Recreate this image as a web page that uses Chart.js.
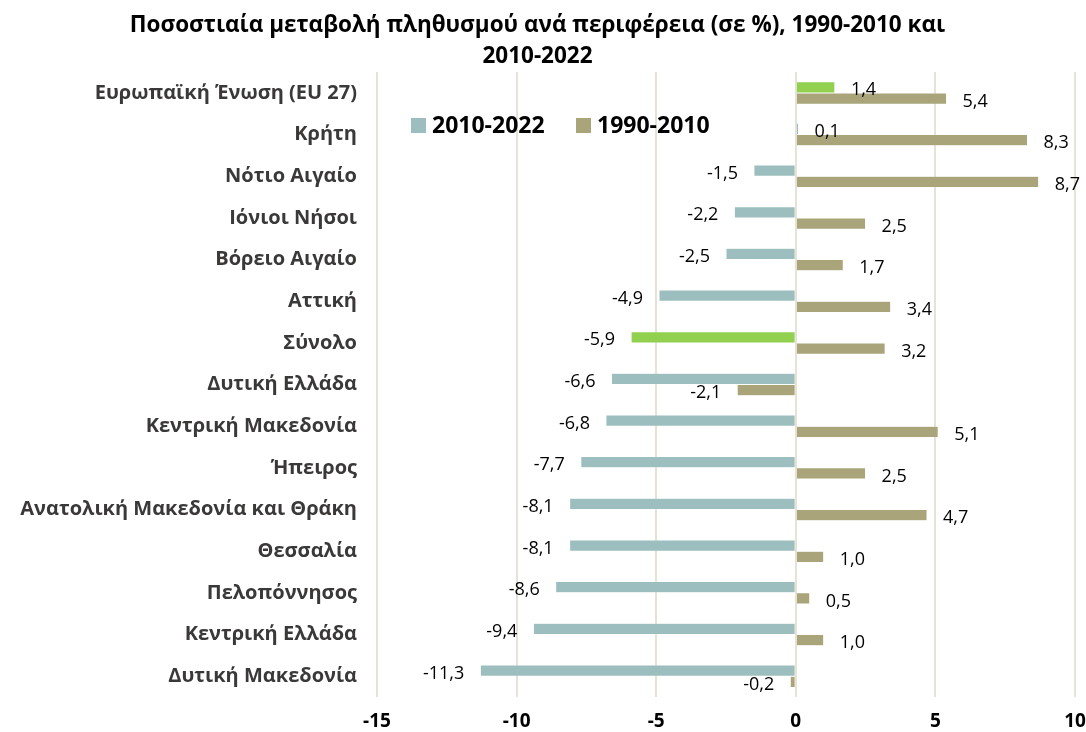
<!DOCTYPE html>
<html>
<head>
<meta charset="utf-8">
<script src="https://cdn.jsdelivr.net/npm/chart.js@4"></script>
<style>
  body { margin: 0; background: #fff; }
  #wrap { width: 1086px; height: 732px; }
</style>
</head>
<body>
<div id="wrap"><canvas id="myChart"></canvas></div>
<script>
const ctx = document.getElementById('myChart').getContext('2d');

// regions, top to bottom
const regions = [
  'Ευρωπαϊκή Ένωση (EU 27)', 'Κρήτη', 'Νότιο Αιγαίο', 'Ιόνιοι Νήσοι', 'Βόρειο Αιγαίο',
  'Αττική', 'Σύνολο', 'Δυτική Ελλάδα', 'Κεντρική Μακεδονία', 'Ήπειρος',
  'Ανατολική Μακεδονία και Θράκη', 'Θεσσαλία', 'Πελοπόννησος', 'Κεντρική Ελλάδα', 'Δυτική Μακεδονία'
];
const change2010_2022 = [1.4, 0.1, -1.5, -2.2, -2.5, -4.9, -5.9, -6.6, -6.8, -7.7, -8.1, -8.1, -8.6, -9.4, -11.3];
const change1990_2010 = [5.4, 8.3, 8.7, 2.5, 1.7, 3.4, 3.2, -2.1, 5.1, 2.5, 4.7, 1.0, 0.5, 1.0, -0.2];
const seriesNames = ['2010-2022', '1990-2010'];
const highlighted = ['Ευρωπαϊκή Ένωση (EU 27)', 'Σύνολο'];
const xTicks = [-15, -10, -5, 0, 5, 10];

const FONT = "'Open Sans', 'Noto Sans', sans-serif";
const TEAL = '#9dbebe';
const KHAKI = '#a9a47a';
const GREEN = '#92d050';

const fmt = v => v.toFixed(1).replace('.', ',');

// value labels next to bar ends
const valueLabels = {
  id: 'valueLabels',
  afterDatasetsDraw(chart) {
    const c = chart.ctx;
    c.save();
    c.font = '18px ' + FONT;
    c.fillStyle = '#000';
    c.textBaseline = 'middle';
    chart.data.datasets.forEach((ds, i) => {
      chart.getDatasetMeta(i).data.forEach((bar, j) => {
        const v = ds.data[j];
        if (v >= 0) {
          c.textAlign = 'left';
          c.fillText(fmt(v), bar.x + 16, bar.y + 3);
        } else {
          c.textAlign = 'right';
          c.fillText(fmt(v), bar.x - 16, bar.y + 3);
        }
      });
    });
    c.restore();
  }
};

// legend sits inside the plot, top left
const innerLegend = {
  id: 'innerLegend',
  afterDraw(chart) {
    const c = chart.ctx;
    const cols = [TEAL, KHAKI];
    const xs = [411, 576];
    c.save();
    c.font = 'bold 23px ' + FONT;
    c.textBaseline = 'middle';
    c.textAlign = 'left';
    seriesNames.forEach((name, i) => {
      c.fillStyle = cols[i];
      c.fillRect(xs[i], 118, 15, 15);
      c.fillStyle = '#000';
      c.fillText(name, xs[i] + 21, 126);
    });
    c.restore();
  }
};

const myChart = new Chart(ctx, {
  type: 'bar',
  data: {
    labels: regions,
    datasets: [{
      label: seriesNames[0],
      data: change2010_2022,
      backgroundColor: regions.map(r => highlighted.includes(r) ? GREEN : TEAL),
      borderColor: 'rgba(255,255,255,0.3)',
      borderWidth: 0.5,
      categoryPercentage: 0.54,
      barPercentage: 1.0
    }, {
      label: seriesNames[1],
      data: change1990_2010,
      backgroundColor: KHAKI,
      borderColor: 'rgba(255,255,255,0.3)',
      borderWidth: 0.5,
      categoryPercentage: 0.54,
      barPercentage: 1.0
    }]
  },
  options: {
    indexAxis: 'y',
    responsive: true,
    maintainAspectRatio: false,
    animation: false,
    layout: { padding: { top: 10, right: 11, left: 0, bottom: 0 } },
    plugins: {
      legend: { display: false },
      tooltip: { enabled: false },
      title: {
        display: true,
        text: ['Ποσοστιαία μεταβολή πληθυσμού ανά περιφέρεια (σε %), 1990-2010 και', '2010-2022'],
        color: '#000',
        font: { family: FONT, size: 22.5, weight: 'bold', lineHeight: 1.38 },
        padding: { top: 0, bottom: 0 }
      }
    },
    scales: {
      x: {
        min: xTicks[0],
        max: xTicks[xTicks.length - 1],
        afterBuildTicks: scale => { scale.ticks = xTicks.map(v => ({ value: v })); },
        afterFit: scale => { scale.height = 35; scale.paddingLeft = 0; scale.paddingRight = 0; },
        ticks: {
          color: '#000',
          font: { family: FONT, size: 19, weight: 'bold' },
          padding: 13
        },
        grid: { color: '#e6e2d6', lineWidth: 2, drawTicks: false },
        border: { display: false }
      },
      y: {
        afterFit: scale => { scale.width = 377; scale.paddingTop = 0; scale.paddingBottom = 0; },
        ticks: {
          color: '#3b3838',
          font: { family: FONT, size: 20, weight: 'bold' },
          padding: 20
        },
        grid: { display: false, drawTicks: false },
        border: { display: false }
      }
    }
  },
  plugins: [valueLabels, innerLegend]
});
</script>
</body>
</html>
